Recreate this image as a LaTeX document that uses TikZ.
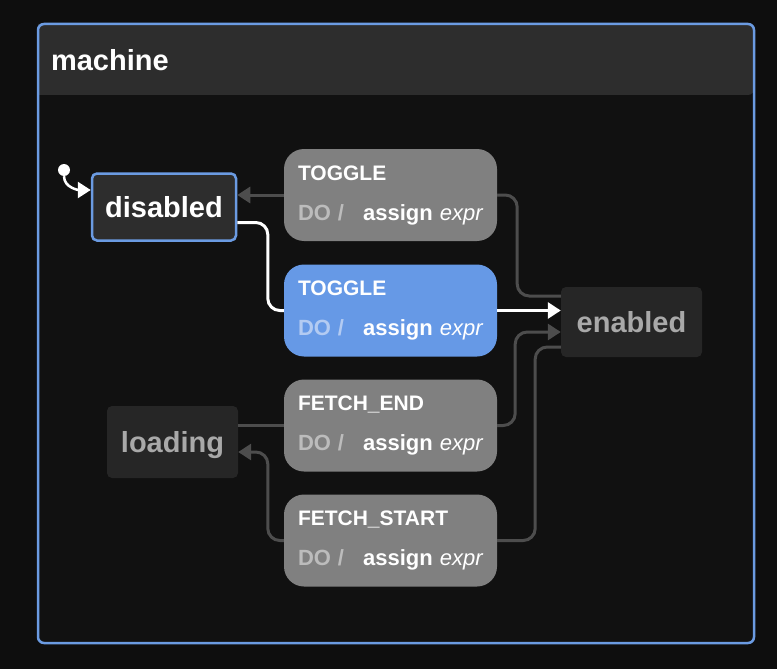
\documentclass[tikz,border=0pt]{standalone}
\usepackage{fontspec}
\setmainfont{Liberation Sans}
\usepackage{tikz}
\usetikzlibrary{positioning,calc,arrows.meta}

\definecolor{pagebg}{HTML}{0E0E0E}
\definecolor{bodybg}{HTML}{111111}
\definecolor{headbg}{HTML}{2D2D2D}
\definecolor{frameblue}{HTML}{6B9BE2}
\definecolor{activeblue}{HTML}{6699E6}
\definecolor{eventgray}{HTML}{808080}
\definecolor{stategray}{HTML}{262626}
\definecolor{dimtext}{HTML}{A9A9A9}
\definecolor{dogray}{HTML}{BCBCBC}
\definecolor{doblue}{HTML}{B3CBF2}
\definecolor{edgegray}{HTML}{4D4D4D}

\newcommand{\evlabel}[2]{\textbf{#1}\\\mbox{\fontsize{22}{40}\selectfont{\color{#2}\textbf{DO /}}\hspace{19pt}\textbf{assign} \textit{expr}}}

\begin{document}
\begin{tikzpicture}[x=1pt, y=-1pt,
			statebox/.style={fill=stategray, rounded corners=5pt, text=dimtext, font=\bfseries\fontsize{29}{32}\selectfont, text height=21pt, text depth=0pt, minimum width=141pt, minimum height=70pt},
			eventbox/.style={fill=eventgray, rounded corners=20pt, text=white, font=\fontsize{21}{40}\selectfont, minimum width=213pt, minimum height=92pt, text width=185pt, align=left, inner xsep=14pt},
			edge/.style={draw=edgegray, line width=3pt, rounded corners=12pt},
			tip/.style={-{Triangle[length=13pt,width=16pt]}},
		]
		
			%Frame
			\useasboundingbox[fill=pagebg] (0,0) rectangle (777,669);
			\fill[bodybg, rounded corners=6pt] (38,24) rectangle (754,643);
			\fill[headbg, rounded corners=6pt] (38,24) -- (754,24) -- (754,95) [sharp corners] -- (38,95) -- cycle;
			\node[draw=frameblue, line width=2.5pt, rounded corners=6pt, minimum width=716pt, minimum height=619pt] (machine) at (396,333.5) {};
			\node[anchor=west, text=white, font=\bfseries\fontsize{29}{32}\selectfont] (title) at (47.5,60) {machine};
		
			%Nodes
			\node[statebox, fill=headbg, draw=frameblue, line width=2.5pt, text=white, minimum width=144pt, minimum height=67pt] (disabled) at (164,207) {disabled};
			\node[statebox] (enabled) at (631.5,322) {enabled};
			\node[statebox, minimum width=131pt, minimum height=72pt] (loading) at (172.5,442) {loading};
			\node[eventbox] (toggleA) at (390.5,195) {\evlabel{TOGGLE}{dogray}};
			\node[eventbox, fill=activeblue] (toggleB) at (390.5,310.5) {\evlabel{TOGGLE}{doblue}};
			\node[eventbox] (fetchEnd) at (390.5,425.5) {\evlabel{FETCH\_END}{dogray}};
			\node[eventbox] (fetchStart) at (390.5,540.5) {\evlabel{FETCH\_START}{dogray}};
			\node[circle, fill=white, inner sep=0pt, minimum size=12pt] (init) at (64,170) {};
			\coordinate (initEnd) at ($(disabled.west)+(0,-17)$);
		
			%Lines
			\draw[white, line width=2.5pt, tip] (init.south) to[out=-90, in=180] (initEnd);
			\draw[edge] ($(enabled.west)+(0,-26)$) -| ($(toggleA.east)+(20,0)$) -- (toggleA.east);
			\draw[edge, tip, edgegray] (toggleA.west) -- (toggleA.west -| disabled.east);
			\draw[edge, draw=white] ($(disabled.east)+(0,15.5)$) -| ($(toggleB.west)+(-16,0)$) -- (toggleB.west);
			\draw[edge, draw=white, tip, white] (toggleB.east) -- (toggleB.east -| enabled.west);
			\draw[edge] (fetchEnd.west -| loading.east) -- (fetchEnd.west);
			\draw[edge, tip, edgegray] (fetchEnd.east) -- ++(18,0) |- ($(enabled.west)+(0,10)$);
			\draw[edge] ($(enabled.west)+(0,25)$) -| ($(fetchStart.east)+(38,0)$) -- (fetchStart.east);
			\draw[edge, tip, edgegray] (fetchStart.west) -- ++(-16,0) |- ($(loading.east)+(0,10)$);
		
		\end{tikzpicture}
\end{document}
